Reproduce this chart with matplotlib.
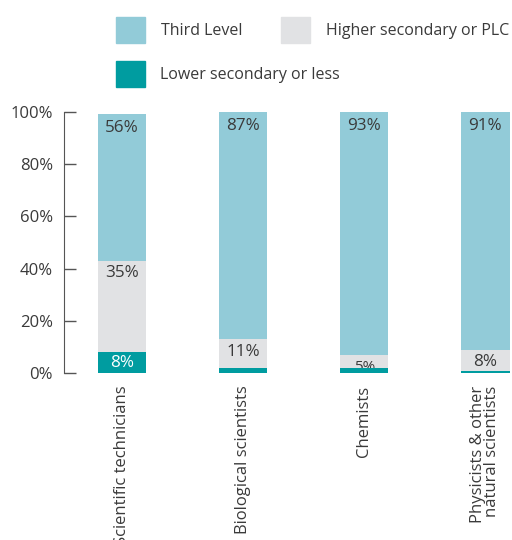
import matplotlib.pyplot as plt
import numpy as np
from matplotlib.patches import Rectangle

plt.rcParams["font.family"] = ["Open Sans", "DejaVu Sans"]

categories = [
    "Scientific technicians",
    "Biological scientists",
    "Chemists",
    "Physicists & other\nnatural scientists",
]
lower_secondary = [8, 2, 2, 1]
higher_secondary = [35, 11, 5, 8]
third_level = [56, 87, 93, 91]
show_lower_label = [True, False, False, False]

series_names = ["Third Level", "Higher secondary or PLC", "Lower secondary or less"]
colors = ["#92cbd8", "#e1e2e4", "#009ca0"]
text_color = "#3a3a3a"


def main():
    fig = plt.figure(figsize=(5.12, 5.4), dpi=100)
    ax = fig.add_axes([0.125, 0.309, 0.875, 0.484])

    x = np.arange(len(categories))
    width = 0.4
    lower = np.array(lower_secondary)
    higher = np.array(higher_secondary)
    third = np.array(third_level)

    ax.bar(x, lower, width, color=colors[2], zorder=3)
    ax.bar(x, higher, width, bottom=lower, color=colors[1], zorder=2)
    ax.bar(x, third, width, bottom=lower + higher, color=colors[0], zorder=2)

    # labels sit just under the top of each segment
    for i in range(len(categories)):
        top3 = lower[i] + higher[i] + third[i]
        ax.text(x[i], top3 - 2.3, f"{third[i]}%", ha="center", va="top",
                fontsize=12.3, color=text_color, zorder=4)
        top2 = lower[i] + higher[i]
        size = 11 if higher[i] < 7 else 12.3
        ax.text(x[i], top2 - 1.8, f"{higher[i]}%", ha="center", va="top",
                fontsize=size, color=text_color, zorder=2.5)
        if show_lower_label[i]:
            ax.text(x[i], lower[i] / 2, f"{lower[i]}%", ha="center", va="center",
                    fontsize=12.3, color="white", zorder=4)

    ax.set_xlim(-0.479, 3.22)
    ax.set_ylim(0, 100)
    ax.set_yticks(np.arange(0, 101, 20))
    ax.set_yticklabels([f"{v}%" for v in range(0, 101, 20)])
    ax.tick_params(axis="y", direction="in", length=8.5, width=1, colors="#555555",
                   labelcolor=text_color, labelsize=12, pad=8)
    ax.set_xticks(x)
    ax.set_xticklabels(categories, rotation=90, fontsize=12, color=text_color,
                       va="top", ha="center", multialignment="right", linespacing=0.85)
    ax.tick_params(axis="x", length=0, pad=9)
    for side in ["top", "right", "bottom"]:
        ax.spines[side].set_visible(False)
    ax.spines["left"].set_color("#555555")

    # legend drawn by hand to match the staggered layout
    W, H = 512, 540
    legend_items = [(116, 17, 161), (281, 17, 326), (116, 61, 160)]
    for (px, py, tx), name, color in zip(legend_items, series_names, colors):
        fig.patches.append(Rectangle((px / W, 1 - (py + 26) / H), 29 / W, 26 / H,
                                     transform=fig.transFigure, color=color))
        fig.text(tx / W, 1 - (py + 14) / H, name, fontsize=11.5, color=text_color,
                 va="center", ha="left")

    fig.savefig("out.png", dpi=100)
    plt.close(fig)


if __name__ == "__main__":
    main()
